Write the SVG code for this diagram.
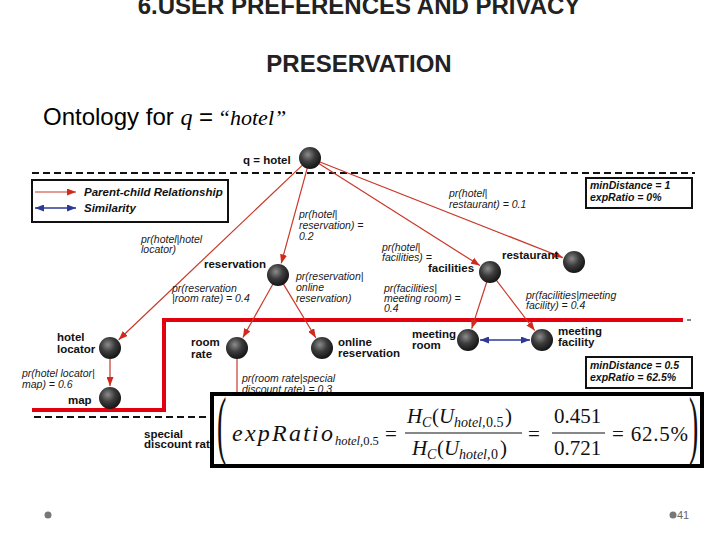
<svg xmlns="http://www.w3.org/2000/svg" width="720" height="540" viewBox="0 0 720 540">
<style>
.title{font-family:"Liberation Sans",Arial,sans-serif;font-size:24px;font-weight:bold;fill:#222;text-anchor:middle}
.sub{font-family:"Liberation Sans",Arial,sans-serif;font-size:24px;fill:#000}
.ser{font-family:"Liberation Serif","Times New Roman",serif;font-style:italic}
.nl{font-family:"Liberation Sans",Arial,sans-serif;font-size:11.5px;font-weight:bold;fill:#111}
.pl{font-family:"Liberation Sans",Arial,sans-serif;font-size:10.5px;font-style:italic;fill:#1a1a1a}
.lg{font-family:"Liberation Sans",Arial,sans-serif;font-size:11.5px;font-style:italic;font-weight:bold;fill:#111}
.bx{font-family:"Liberation Sans",Arial,sans-serif;font-size:10.5px;font-style:italic;font-weight:bold;fill:#111}
.edge{stroke:#c9382a;stroke-width:1.2;fill:none}
.sim{stroke:#2c3a95;stroke-width:1.3;fill:none}
.dash{stroke:#111;stroke-width:2;stroke-dasharray:7,4;fill:none}
.redl{stroke:#e3000f;stroke-width:4;fill:none}
.box{fill:#fff;stroke:#111;stroke-width:2}
.m{font-family:"Liberation Serif","Times New Roman",serif;font-size:21px;fill:#111}
.mi{font-style:italic}
.ms{font-size:14px}
.par{font-family:"Liberation Serif","Times New Roman",serif;font-size:28px;fill:#111}
</style>
<defs>
<radialGradient id="sph" cx="0.4" cy="0.35" r="0.65">
<stop offset="0" stop-color="#8c8c8c"/>
<stop offset="0.5" stop-color="#3c3c3c"/>
<stop offset="1" stop-color="#151515"/>
</radialGradient>
<marker id="ar" markerUnits="userSpaceOnUse" markerWidth="9" markerHeight="7" refX="9" refY="3.5" orient="auto">
<path d="M0,0 L9,3.5 L0,7 z" fill="#cf2a1c"/>
</marker>
<marker id="ab" markerUnits="userSpaceOnUse" markerWidth="9" markerHeight="7" refX="9" refY="3.5" orient="auto-start-reverse">
<path d="M0,0 L9,3.5 L0,7 z" fill="#2c3a95"/>
</marker>
<clipPath id="cutL"><rect x="0" y="420" width="211" height="40"/></clipPath>
</defs>
<rect width="720" height="540" fill="#fff"/>

<text class="title" x="359" y="14">6.USER PREFERENCES AND PRIVACY</text>
<text class="title" x="359" y="72">PRESERVATION</text>
<text class="sub" x="43" y="125">Ontology for <tspan class="ser">q</tspan> = <tspan class="ser" font-size="22" dx="-2">“hotel”</tspan></text>

<!-- background lines -->
<line class="dash" x1="32" y1="173" x2="695" y2="173"/>
<line class="dash" x1="34" y1="417" x2="212" y2="417"/>
<polyline class="redl" points="32,410 164,410 164,320 683,320"/>
<line x1="687" y1="320" x2="691" y2="320" stroke="#333" stroke-width="1.2"/>

<!-- legend -->
<g id="legend">
<rect class="box" x="32" y="180" width="196" height="42"/>
<line class="edge" x1="35" y1="192" x2="76" y2="192" marker-end="url(#ar)"/>
<text class="lg" x="84" y="196">Parent-child Relationship</text>
<line class="sim" x1="35" y1="208" x2="76" y2="208" marker-start="url(#ab)" marker-end="url(#ab)"/>
<text class="lg" x="84" y="212">Similarity</text>
</g>

<g id="box1">
<rect class="box" x="586" y="178" width="106" height="30"/>
<text class="bx" x="590" y="189">minDistance = 1</text>
<text class="bx" x="590" y="201">expRatio = 0%</text>
</g>
<g id="box2">
<rect class="box" x="586" y="357" width="106" height="31"/>
<text class="bx" x="590" y="369">minDistance = 0.5</text>
<text class="bx" x="590" y="381">expRatio = 62.5%</text>
</g>

<!-- connectors -->
<g id="connectors">
<line class="edge" x1="302.7" y1="164.9" x2="118.7" y2="339.7" marker-end="url(#ar)"/>
<line class="edge" x1="307.4" y1="167.6" x2="281.2" y2="263.4" marker-end="url(#ar)"/>
<line class="edge" x1="318.4" y1="163.3" x2="479.9" y2="265.6" marker-end="url(#ar)"/>
<line class="edge" x1="319.3" y1="161.7" x2="562.8" y2="257.6" marker-end="url(#ar)"/>
<line class="edge" x1="273.1" y1="283.7" x2="242.9" y2="337.5" marker-end="url(#ar)"/>
<line class="edge" x1="283.2" y1="283.6" x2="315.8" y2="337.7" marker-end="url(#ar)"/>
<line class="edge" x1="486.9" y1="281.5" x2="471.7" y2="328.6" marker-end="url(#ar)"/>
<line class="edge" x1="496.1" y1="279.9" x2="534.7" y2="330.5" marker-end="url(#ar)"/>
<line class="edge" x1="110" y1="359" x2="110" y2="386" marker-end="url(#ar)"/>
<line class="edge" x1="237" y1="359" x2="237" y2="396"/>
<line class="sim" x1="480" y1="340" x2="530" y2="340" marker-start="url(#ab)" marker-end="url(#ab)"/>
</g>

<!-- edge labels -->
<g id="edge-labels">
<text class="pl" x="141" y="243">pr(hotel|hotel</text>
<text class="pl" x="141" y="253">locator)</text>
<text class="pl" x="299" y="218">pr(hotel|</text>
<text class="pl" x="299" y="229">reservation) =</text>
<text class="pl" x="299" y="240">0.2</text>
<text class="pl" x="449" y="197">pr(hotel|</text>
<text class="pl" x="449" y="208">restaurant) = 0.1</text>
<text class="pl" x="382" y="251">pr(hotel|</text>
<text class="pl" x="382" y="261">facilities) =</text>
<text class="pl" x="296" y="280">pr(reservation|</text>
<text class="pl" x="296" y="291">online</text>
<text class="pl" x="296" y="302">reservation)</text>
<text class="pl" x="172" y="292">pr(reservation</text>
<text class="pl" x="172" y="302">|room rate) = 0.4</text>
<text class="pl" x="384" y="292">pr(facilities|</text>
<text class="pl" x="384" y="302">meeting room) =</text>
<text class="pl" x="384" y="312">0.4</text>
<text class="pl" x="526" y="299">pr(facilities|meeting</text>
<text class="pl" x="526" y="309">facility) = 0.4</text>
<text class="pl" x="22" y="377">pr(hotel locator|</text>
<text class="pl" x="22" y="388">map) = 0.6</text>
<text class="pl" x="242" y="382">pr(room rate|special</text>
<text class="pl" x="242" y="393">discount rate) = 0.3</text>
</g>

<!-- nodes -->
<g id="n-hotel"><circle cx="310" cy="158" r="11" fill="url(#sph)"/><text class="nl" x="243" y="164">q = hotel</text></g>
<g id="n-reservation"><circle cx="278" cy="275" r="11" fill="url(#sph)"/><text class="nl" x="204" y="268">reservation</text></g>
<g id="n-facilities"><circle cx="490" cy="272" r="11" fill="url(#sph)"/><text class="nl" x="428" y="272">facilities</text></g>
<g id="n-restaurant"><circle cx="574" cy="262" r="11" fill="url(#sph)"/><text class="nl" x="502" y="259">restaurant</text></g>
<g id="n-hotel-locator"><circle cx="110" cy="348" r="11" fill="url(#sph)"/><text class="nl" x="57" y="341">hotel</text><text class="nl" x="57" y="353">locator</text></g>
<g id="n-room-rate"><circle cx="237" cy="348" r="11" fill="url(#sph)"/><text class="nl" x="191" y="346">room</text><text class="nl" x="191" y="358">rate</text></g>
<g id="n-online-reservation"><circle cx="322" cy="348" r="11" fill="url(#sph)"/><text class="nl" x="338" y="346">online</text><text class="nl" x="338" y="357">reservation</text></g>
<g id="n-meeting-room"><circle cx="468" cy="340" r="11" fill="url(#sph)"/><text class="nl" x="412" y="338">meeting</text><text class="nl" x="412" y="349">room</text></g>
<g id="n-meeting-facility"><circle cx="542" cy="340" r="11" fill="url(#sph)"/><text class="nl" x="558" y="335">meeting</text><text class="nl" x="558" y="346">facility</text></g>
<g id="n-map"><circle cx="110" cy="398" r="11" fill="url(#sph)"/><text class="nl" x="68" y="404">map</text></g>
<g id="n-special-discount-rate" clip-path="url(#cutL)"><text class="nl" x="144" y="438">special</text><text class="nl" x="144" y="448">discount rate</text></g>

<!-- formula -->
<g id="formula">
<rect x="212" y="394" width="490" height="72" fill="#fff" stroke="#000" stroke-width="4"/>
<text class="par" x="217" y="163.7" transform="scale(1,2.75)">(</text>
<text class="par" x="689" y="163.7" transform="scale(1,2.75)">)</text>
<text class="m mi" x="232" y="441" font-size="24" style="font-size:24px" textLength="101" lengthAdjust="spacing">expRatio</text>
<text class="m" x="335" y="445" style="font-size:12.5px"><tspan class="mi">hotel,</tspan>0.5</text>
<text class="m" x="385" y="441">=</text>
<text class="m" y="423"><tspan class="mi" x="407">H</tspan><tspan class="mi ms" x="422" y="427">C</tspan><tspan x="432" y="423">(</tspan><tspan class="mi" x="439">U</tspan><tspan class="mi ms" x="454" y="427">hotel,</tspan><tspan class="ms" x="486" y="427">0.5</tspan><tspan x="505" y="423">)</tspan></text>
<line x1="405" y1="433" x2="522" y2="433" stroke="#111" stroke-width="1.2"/>
<text class="m" y="455"><tspan class="mi" x="412">H</tspan><tspan class="mi ms" x="427" y="459">C</tspan><tspan x="437" y="455">(</tspan><tspan class="mi" x="444">U</tspan><tspan class="mi ms" x="459" y="459">hotel,</tspan><tspan class="ms" x="491" y="459">0</tspan><tspan x="500" y="455">)</tspan></text>
<text class="m" x="528" y="441">=</text>
<text class="m" x="554" y="423">0.451</text>
<line x1="552" y1="433" x2="605" y2="433" stroke="#111" stroke-width="1.2"/>
<text class="m" x="554" y="455">0.721</text>
<text class="m" x="612" y="441" textLength="76" lengthAdjust="spacing">= 62.5%</text>
</g>

<!-- footer -->
<circle cx="48" cy="515" r="3.5" fill="#777"/>
<circle cx="673" cy="515" r="3.5" fill="#777"/>
<text x="677" y="519" font-family="Liberation Sans,Arial,sans-serif" font-size="11" fill="#666">41</text>
</svg>
